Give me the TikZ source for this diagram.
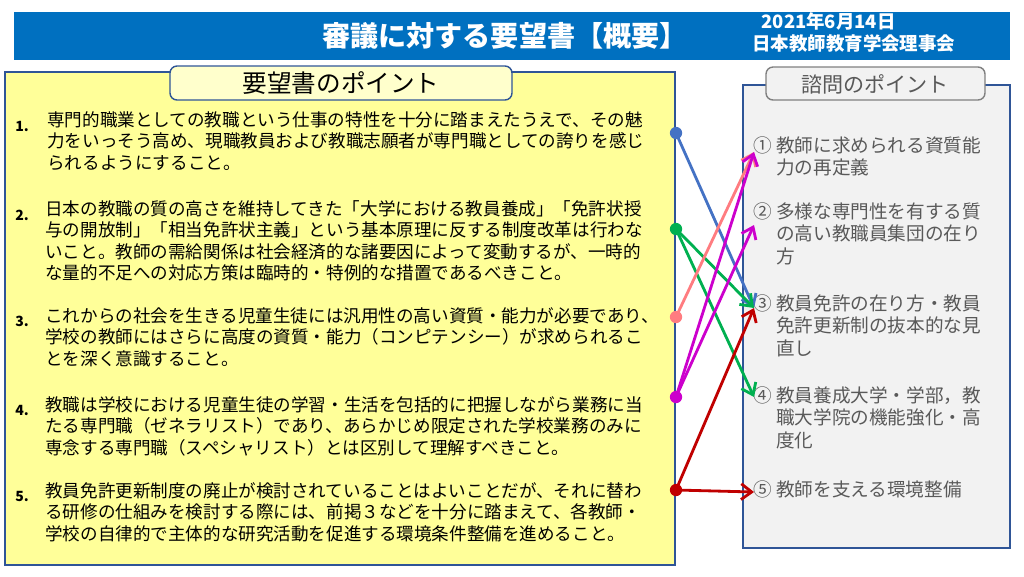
\documentclass[tikz,border=0pt]{standalone}
\usepackage{fontspec}
\setmainfont{Noto Sans CJK JP}
\usetikzlibrary{arrows.meta, positioning}
\definecolor{hdrblue}{HTML}{0070C0}
\definecolor{boxyellow}{HTML}{FFFF99}
\definecolor{tabyellow}{HTML}{FFFFCC}
\definecolor{boxgray}{HTML}{F2F2F2}
\definecolor{framebl}{HTML}{2F5597}
\definecolor{txtgray}{HTML}{595959}
\definecolor{cblue}{HTML}{4472C4}
\definecolor{cgreen}{HTML}{00B050}
\definecolor{cpink}{HTML}{FF7C80}
\definecolor{cmag}{HTML}{CC00CC}
\definecolor{cred}{HTML}{C00000}
\tikzset{
  itemtext/.style={anchor=north west, inner sep=0pt, align=left,
    font=\fontsize{10}{12.2}\selectfont},
  itemnum/.style={anchor=north west, inner sep=0pt, font=\fontsize{8}{10}\selectfont\bfseries},
  asktext/.style={anchor=north west, inner sep=0pt, align=left, text=txtgray,
    font=\fontsize{10.6}{13}\selectfont},
  tabbox/.style={draw=framebl, rounded corners=4pt, line width=0.8pt},
  link/.style={line width=1.6pt, -{Straight Barb[length=6pt,width=9pt,line width=1.6pt]}},
  dot/.style={circle, inner sep=0pt, minimum size=7pt}
}
\begin{document}
\begin{tikzpicture}[x=0.02cm,y=-0.02cm]
\useasboundingbox (0,0) rectangle (1024,576);

% header
\fill[hdrblue] (14,12) rectangle (1010,60);
\node[text=white, font=\fontsize{16}{18}\selectfont\bfseries] (title) at (505,36) {審議に対する要望書【概要】};
\node[text=white, anchor=north west, inner sep=0pt, align=left,
  font=\fontsize{10.5}{12.5}\selectfont\bfseries] (date) at (752,12) {\hspace*{0.5em}2021年6月14日\\日本教師教育学会理事会};

% boxes
\filldraw[fill=boxyellow, draw=framebl, line width=0.8pt] (5,72) rectangle (675,565);
\filldraw[fill=boxgray, draw=framebl, line width=0.8pt] (743,85) rectangle (1010,548);
\filldraw[tabbox, fill=tabyellow] (170,66) rectangle (512,100);
\node[font=\fontsize{14}{16}\selectfont] (lefttab) at (341,83) {要望書のポイント};
\filldraw[tabbox, fill=boxgray, draw=gray] (766,67) rectangle (985,100);
\node[font=\fontsize{12}{14}\selectfont, text=txtgray] (righttab) at (875,84) {諮問のポイント};

% left items
\node[itemnum] (n1) at (15,121) {1.};
\node[itemtext] (y1) at (47,111) {専門的職業としての教職という仕事の特性を十分に踏まえたうえで、その魅\\力をいっそう高め、現職教員および教職志願者が専門職としての誇りを感じ\\られるようにすること。};
\node[itemnum] (n2) at (15,210) {2.};
\node[itemtext] (y2) at (45,200) {日本の教職の質の高さを維持してきた「大学における教員養成」「免許状授\\与の開放制」「相当免許状主義」という基本原理に反する制度改革は行わな\\いこと。教師の需給関係は社会経済的な諸要因によって変動するが、一時的\\な量的不足への対応方策は臨時的・特例的な措置であるべきこと。};
\node[itemnum] (n3) at (15,316) {3.};
\node[itemtext] (y3) at (45,307) {これからの社会を生きる児童生徒には汎用性の高い資質・能力が必要であり、\\学校の教師にはさらに高度の資質・能力（コンピテンシー）が求められるこ\\とを深く意識すること。};
\node[itemnum] (n4) at (15,405) {4.};
\node[itemtext] (y4) at (45,396) {教職は学校における児童生徒の学習・生活を包括的に把握しながら業務に当\\たる専門職（ゼネラリスト）であり、あらかじめ限定された学校業務のみに\\専念する専門職（スペシャリスト）とは区別して理解すべきこと。};
\node[itemnum] (n5) at (15,491) {5.};
\node[itemtext] (y5) at (45,482) {教員免許更新制度の廃止が検討されていることはよいことだが、それに替わ\\る研修の仕組みを検討する際には、前掲３などを十分に踏まえて、各教師・\\学校の自律的で主体的な研究活動を促進する環境条件整備を進めること。};

% right items
\node[asktext] (s1) at (753,136) {① 教師に求められる資質能\\\phantom{①} 力の再定義};
\node[asktext] (s2) at (753,202) {② 多様な専門性を有する質\\\phantom{①} の高い教職員集団の在り\\\phantom{①} 方};
\node[asktext] (s3) at (753,294) {③ 教員免許の在り方・教員\\\phantom{①} 免許更新制の抜本的な見\\\phantom{①} 直し};
\node[asktext] (s4) at (753,386) {④ 教員養成大学・学部，教\\\phantom{①} 職大学院の機能強化・高\\\phantom{①} 度化};
\node[asktext] (s5) at (753,480) {⑤ 教師を支える環境整備};

% dots and targets
\node[dot, fill=cblue] (d1) at (676,133) {};
\node[dot, fill=cgreen] (d2) at (676,229) {};
\node[dot, fill=cpink] (d3) at (676,317) {};
\node[dot, fill=cmag] (d4) at (676,397) {};
\node[dot, fill=cred] (d5) at (676,490) {};
\coordinate (t1) at (754,152);
\coordinate (t2) at (754,225);
\coordinate (t3) at (754,308);
\coordinate (t4) at (754,397);
\coordinate (t5) at (754,492);

\draw[link, cblue] (d1.center) -- (t3);
\draw[link, cgreen] (d2.center) -- (t3);
\draw[link, cgreen] (d2.center) -- (t4);
\draw[link, cpink] (d3.center) -- (t1);
\draw[link, cmag] (d4.center) -- (t1);
\draw[link, cmag] (d4.center) -- (t2);
\draw[link, cred] (d5.center) -- (t3);
\draw[link, cred] (d5.center) -- (t5);
\end{tikzpicture}
\end{document}
